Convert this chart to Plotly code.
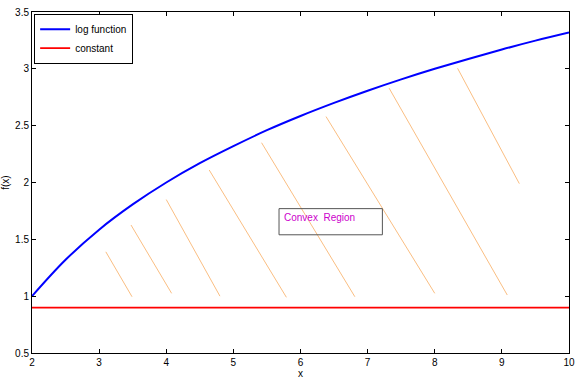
import plotly.graph_objects as go

# log function values
log_x = [2, 2.5, 3, 3.5, 4, 4.5, 5, 5.5, 6, 6.5, 7, 7.5, 8, 8.5, 9, 9.5, 10]
log_y = [1.0, 1.32, 1.585, 1.807, 2.0, 2.17, 2.32, 2.46, 2.585, 2.70, 2.807,
         2.907, 3.0, 3.087, 3.17, 3.248, 3.32]

const_x = [2, 10]
const_y = [0.9, 0.9]

# hatch segments (start and end points)
hatch_x0 = [3.10, 3.475, 4.00, 4.64, 5.42, 6.38, 7.32, 8.34]
hatch_y0 = [1.39, 1.626, 1.85, 2.11, 2.35, 2.58, 2.83, 3.005]
hatch_x1 = [3.49, 4.08, 4.80, 5.79, 6.81, 8.00, 9.08, 9.26]
hatch_y1 = [0.995, 1.025, 1.0, 0.99, 0.995, 1.025, 1.01, 1.99]

label_text = "Convex  Region"

hx, hy = [], []
for a, b, c, d in zip(hatch_x0, hatch_y0, hatch_x1, hatch_y1):
    hx += [a, c, None]
    hy += [b, d, None]

fig = go.Figure()
fig.add_trace(go.Scatter(x=hx, y=hy, mode="lines", showlegend=False,
                         line=dict(color="rgb(250,190,130)", width=1)))
fig.add_trace(go.Scatter(x=log_x, y=log_y, mode="lines", name="log function",
                         line=dict(color="#0000ff", width=2, shape="spline")))
fig.add_trace(go.Scatter(x=const_x, y=const_y, mode="lines", name="constant",
                         line=dict(color="#ff0000", width=1.8)))

fig.add_shape(type="rect", x0=5.68, x1=7.22, y0=1.54, y1=1.77,
              line=dict(color="#555555", width=1), fillcolor="rgba(0,0,0,0)")
fig.add_annotation(x=5.73, y=1.695, text=label_text, showarrow=False,
                   xanchor="left", yanchor="middle",
                   font=dict(color="#cc00cc", size=10, family="Liberation Sans"))

axis_common = dict(showgrid=False, zeroline=False, showline=True, linecolor="black",
                   linewidth=1, mirror="ticks", ticks="inside", ticklen=4,
                   tickcolor="black", tickfont=dict(size=10, color="black"),
                   automargin=False)
fig.update_xaxes(range=[2, 10], dtick=1, title=dict(text="x", font=dict(size=10), standoff=2),
                 **axis_common)
fig.update_yaxes(range=[0.5, 3.5], dtick=0.5, title=dict(text="f(x)", font=dict(size=10), standoff=4),
                 **axis_common)

fig.update_layout(
    width=579, height=385,
    margin=dict(l=32, r=10, t=12, b=32),
    plot_bgcolor="white", paper_bgcolor="white",
    font=dict(family="Liberation Sans", size=10, color="black"),
    legend=dict(x=0.004, y=0.995, xanchor="left", yanchor="top",
                bgcolor="white", bordercolor="black", borderwidth=1,
                font=dict(size=10), itemwidth=30, tracegroupgap=0),
)

fig.write_html("out.html")
